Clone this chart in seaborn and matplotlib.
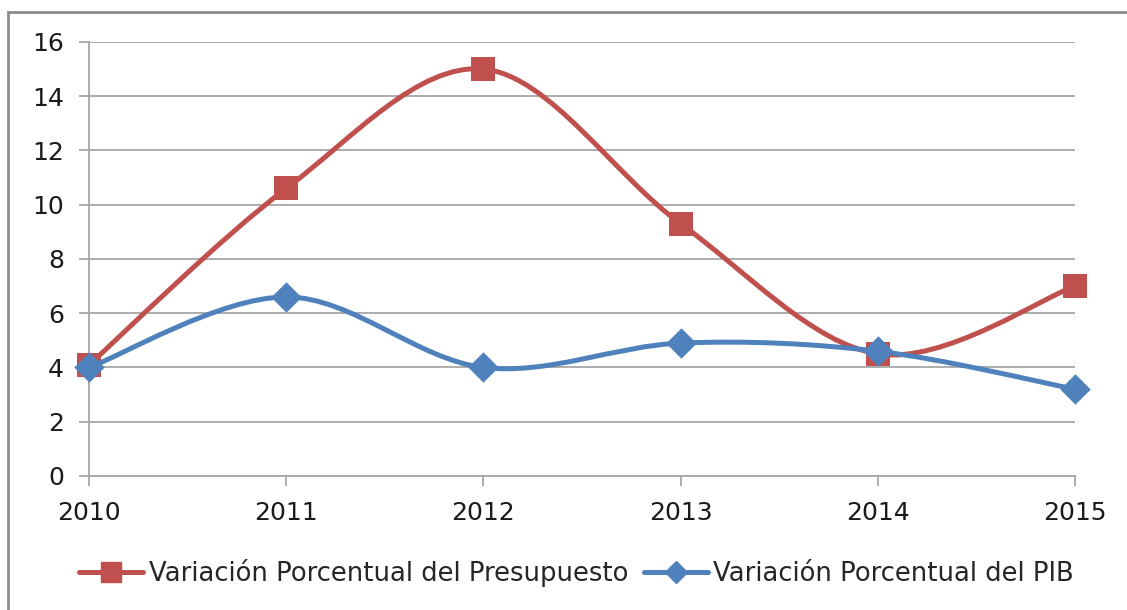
import numpy as np
import pandas as pd
import matplotlib
matplotlib.use("Agg")
import matplotlib.pyplot as plt
import seaborn as sns
from matplotlib.path import Path
from matplotlib.patches import PathPatch, Rectangle
from matplotlib.lines import Line2D

years = [2010, 2011, 2012, 2013, 2014, 2015]
presupuesto = [4.1, 10.6, 15.0, 9.3, 4.5, 7.0]
pib = [4.0, 6.6, 4.0, 4.9, 4.6, 3.2]
serie_presupuesto = "Variación Porcentual del Presupuesto"
serie_pib = "Variación Porcentual del PIB"
y_ticks = [0, 2, 4, 6, 8, 10, 12, 14, 16]

RED = "#C0504D"
BLUE = "#4F81BD"
GRID = "#A6A6A6"

sns.set_style("white")
plt.rcParams["font.family"] = ["DejaVu Sans"]
plt.rcParams["font.size"] = 18


def smooth_path(xs, ys):
    # Excel-style smoothed line: cubic Bezier through every point
    pts = np.column_stack([xs, ys]).astype(float)
    n = len(pts)
    verts = [pts[0]]
    codes = [Path.MOVETO]
    for i in range(n - 1):
        p_prev = pts[max(i - 1, 0)]
        p0 = pts[i]
        p1 = pts[i + 1]
        p_next = pts[min(i + 2, n - 1)]
        c1 = p0 + (p1 - p_prev) / 6.0
        c2 = p1 - (p_next - p0) / 6.0
        verts += [c1, c2, p1]
        codes += [Path.CURVE4] * 3
    return Path(verts, codes)


df = pd.DataFrame({"year": years * 2,
                   "valor": presupuesto + pib,
                   "serie": [serie_presupuesto] * len(years) + [serie_pib] * len(years)})

fig = plt.figure(figsize=(11.27, 6.10), dpi=100)
ax = fig.add_axes([0.079, 0.2197, 0.8749, 0.7115])

# frame around the chart area (only left/top visible in the crop)
fig.patches.append(Rectangle((0.0075, -0.05), 1.2, 1.03, transform=fig.transFigure,
                             fill=False, edgecolor="#8C8C8C", linewidth=2.0))

ax.add_patch(PathPatch(smooth_path(years, presupuesto), facecolor="none",
                       edgecolor=RED, linewidth=3.6, zorder=3, capstyle="round",
                       clip_on=False))
sns.scatterplot(data=df[df["serie"] == serie_presupuesto], x="year", y="valor",
                marker="s", s=17.5 ** 2, color=RED, edgecolor=RED, linewidth=0,
                zorder=4, ax=ax, legend=False, clip_on=False)

ax.add_patch(PathPatch(smooth_path(years, pib), facecolor="none",
                       edgecolor=BLUE, linewidth=3.6, zorder=5, capstyle="round",
                       clip_on=False))
sns.scatterplot(data=df[df["serie"] == serie_pib], x="year", y="valor",
                marker="D", s=15.5 ** 2, color=BLUE, edgecolor=BLUE, linewidth=0,
                zorder=6, ax=ax, legend=False, clip_on=False)

ax.set_xlim(years[0], years[-1])
ax.set_ylim(0, 16)
ax.set_xticks(years)
ax.set_yticks(y_ticks)
ax.set_xlabel("")
ax.set_ylabel("")
ax.grid(axis="y", color=GRID, linewidth=1.3)
ax.set_axisbelow(True)
for side in ["top", "right"]:
    ax.spines[side].set_visible(False)
for side in ["left", "bottom"]:
    ax.spines[side].set_color(GRID)
    ax.spines[side].set_linewidth(1.3)
ax.tick_params(axis="both", which="both", direction="out", length=7, width=1.3,
               color=GRID, labelcolor="#1A1A1A", labelsize=18)
ax.tick_params(axis="y", pad=11, left=True)
ax.tick_params(axis="x", pad=11, bottom=True)
ax.spines["left"].set_zorder(1)

handles = [Line2D([0], [0], color=RED, linewidth=3.6, marker="s", markersize=15),
           Line2D([0], [0], color=BLUE, linewidth=3.6, marker="D", markersize=11)]
fig.legend(handles, [serie_presupuesto, serie_pib], loc="center",
           bbox_to_anchor=(0.5115, 0.061), ncol=2, frameon=False, fontsize=18.6,
           handlelength=2.5, handletextpad=0.2, columnspacing=0.6)

fig.savefig("out.png", dpi=100)
